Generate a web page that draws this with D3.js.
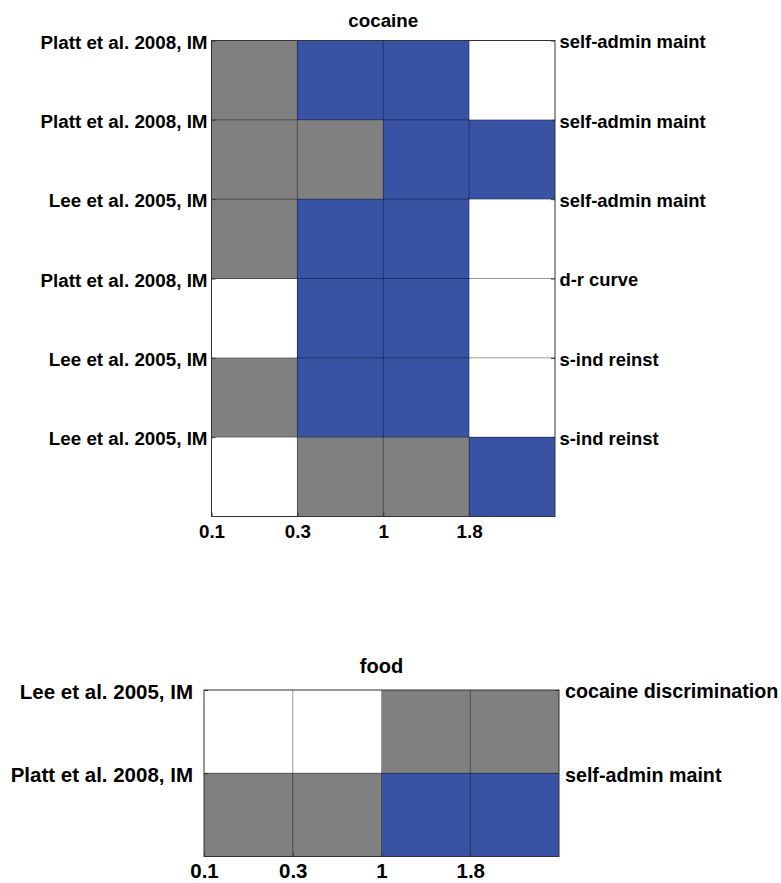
<!DOCTYPE html>
<html>
<head>
<meta charset="utf-8">
<script src="https://cdn.jsdelivr.net/npm/d3@7"></script>
<style>
  html, body { margin: 0; padding: 0; background: #fff; }
  svg { display: block; }
  text { font-family: "Liberation Sans", Arial, Helvetica, sans-serif; font-weight: bold; fill: #000; }
</style>
</head>
<body>
<svg id="chart" width="781" height="883"></svg>
<script>
// ---- data ----
const doses = ["0.1", "0.3", "1", "1.8"];
// cell states: 0 = no effect (white), 1 = grey, 2 = blue
const cocaineStudies = ["Platt et al. 2008, IM", "Platt et al. 2008, IM", "Lee et al. 2005, IM",
                        "Platt et al. 2008, IM", "Lee et al. 2005, IM", "Lee et al. 2005, IM"];
const cocaineParadigms = ["self-admin maint", "self-admin maint", "self-admin maint",
                          "d-r curve", "s-ind reinst", "s-ind reinst"];
const cocaineValues = [
  [1, 2, 2, 0],
  [1, 1, 2, 2],
  [1, 2, 2, 0],
  [0, 2, 2, 0],
  [1, 2, 2, 0],
  [0, 1, 1, 2]
];
const foodStudies = ["Lee et al. 2005, IM", "Platt et al. 2008, IM"];
const foodParadigms = ["cocaine discrimination", "self-admin maint"];
const foodValues = [
  [0, 0, 1, 1],
  [1, 1, 2, 2]
];
const stateColors = ["#ffffff", "#808080", "#3853a4"];

// ---- drawing ----
const svg = d3.select("#chart");
const color = d3.scaleOrdinal().domain([0, 1, 2]).range(stateColors);

function panel(cfg) {
  const g = svg.append("g");
  const nRows = cfg.values.length, nCols = doses.length;
  const x = d3.scaleLinear().domain([0, nCols]).range([cfg.left, cfg.right]);
  const y = d3.scaleLinear().domain([0, nRows]).range([cfg.top, cfg.bottom]);

  const cells = [];
  cfg.values.forEach((row, r) => row.forEach((v, c) => cells.push({ r, c, v })));

  g.selectAll("rect.cell").data(cells).enter().append("rect")
    .attr("class", "cell")
    .attr("x", d => x(d.c)).attr("y", d => y(d.r))
    .attr("width", d => x(d.c + 1) - x(d.c))
    .attr("height", d => y(d.r + 1) - y(d.r))
    .attr("fill", d => color(d.v))
    .attr("shape-rendering", "crispEdges");

  // cell edges
  g.selectAll("line.vgrid").data(d3.range(1, nCols)).enter().append("line")
    .attr("x1", d => x(d)).attr("x2", d => x(d))
    .attr("y1", y(0)).attr("y2", y(nRows))
    .attr("stroke", "#000").attr("stroke-opacity", 0.4).attr("stroke-width", 1);
  g.selectAll("line.hgrid").data(d3.range(1, nRows)).enter().append("line")
    .attr("y1", d => y(d)).attr("y2", d => y(d))
    .attr("x1", x(0)).attr("x2", x(nCols))
    .attr("stroke", "#000").attr("stroke-opacity", 0.4).attr("stroke-width", 1);

  // box
  g.append("rect")
    .attr("x", x(0)).attr("y", y(0))
    .attr("width", x(nCols) - x(0)).attr("height", y(nRows) - y(0))
    .attr("fill", "none").attr("stroke", "#333").attr("stroke-width", 1);

  // left axis (study labels at row tops)
  const yl = g.append("g").attr("transform", `translate(${x(0)},0)`)
    .call(d3.axisLeft(y).tickValues(d3.range(nRows)).tickFormat(i => cfg.studies[i])
      .tickSizeInner(-4).tickSizeOuter(0).tickPadding(cfg.leftPad));
  yl.select(".domain").remove();
  yl.selectAll("line").attr("stroke", "#333");
  yl.selectAll("text").style("font-size", cfg.leftSize + "px").attr("font-family", null).attr("dy", "0.4em");

  // right axis (paradigm labels)
  const yr = g.append("g").attr("transform", `translate(${x(nCols)},0)`)
    .call(d3.axisRight(y).tickValues(d3.range(nRows)).tickFormat(i => cfg.paradigms[i])
      .tickSizeInner(-4).tickSizeOuter(0).tickPadding(cfg.rightPad));
  yr.select(".domain").remove();
  yr.selectAll("line").attr("stroke", "#333");
  yr.selectAll("text").style("font-size", cfg.rightSize + "px").attr("font-family", null).attr("dy", "0.4em");

  // bottom axis (dose labels at column left edges)
  const xa = g.append("g").attr("transform", `translate(0,${y(nRows)})`)
    .call(d3.axisBottom(x).tickValues(d3.range(nCols)).tickFormat(i => doses[i])
      .tickSizeInner(-4).tickSizeOuter(0).tickPadding(cfg.bottomPad));
  xa.select(".domain").remove();
  xa.selectAll("line").attr("stroke", "#333");
  xa.selectAll("text").style("font-size", cfg.tickSize + "px").attr("font-family", null).attr("dy", "0.71em");

  // title
  g.append("text")
    .attr("x", (x(0) + x(nCols)) / 2).attr("y", cfg.titleY)
    .attr("text-anchor", "middle").style("font-size", cfg.titleSize + "px")
    .text(cfg.title);
}

panel({
  title: "cocaine", titleY: 27, titleSize: 18.8,
  left: 211.5, right: 555, top: 40.5, bottom: 516.5,
  values: cocaineValues, studies: cocaineStudies, paradigms: cocaineParadigms,
  leftSize: 18.8, rightSize: 18.4, tickSize: 18.8,
  leftPad: 4, rightPad: 4.5, bottomPad: 8.5
});

panel({
  title: "food", titleY: 673, titleSize: 20,
  left: 204, right: 559, top: 690, bottom: 856.5,
  values: foodValues, studies: foodStudies, paradigms: foodParadigms,
  leftSize: 20.5, rightSize: 19.7, tickSize: 20.5,
  leftPad: 11, rightPad: 6, bottomPad: 7.2
});
</script>
</body>
</html>
